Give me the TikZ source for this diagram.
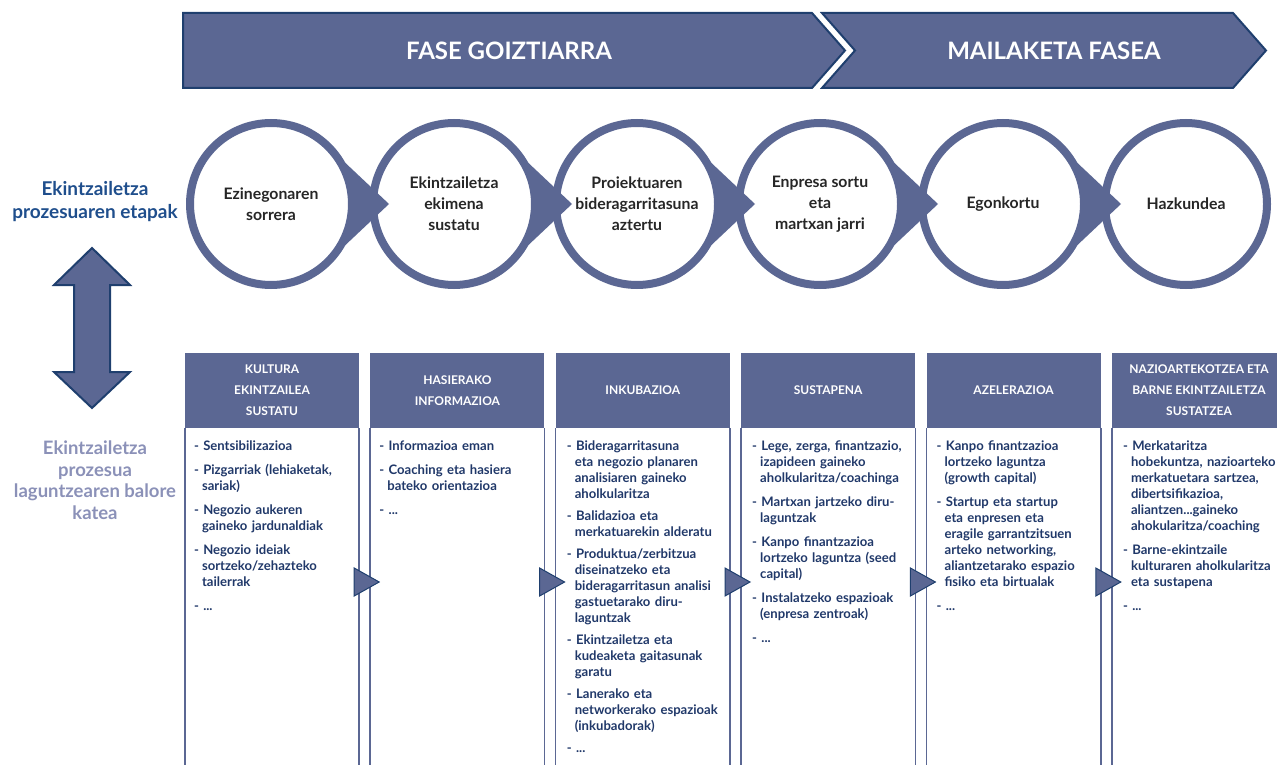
\documentclass[tikz,border=0pt]{standalone}
\usepackage{fontspec}
\setmainfont{Lato}
\usetikzlibrary{positioning}

\definecolor{stageblue}{RGB}{91,103,147}
\definecolor{navy}{RGB}{31,63,110}
\definecolor{itemnavy}{RGB}{32,56,105}
\definecolor{labelblue}{RGB}{31,78,140}
\definecolor{labelgrey}{RGB}{139,145,184}

\newcommand\itm[1]{{\let\\\newline\hangindent=8pt\hangafter=1\noindent-\ #1\par}}

\tikzset{
    flag/.style={fill=stageblue, draw=navy, line width=2pt, line join=miter},
    phase/.style={text=white, font=\bfseries\fontsize{24}{28}\selectfont},
    stage/.style={circle, draw=stageblue, line width=8pt, fill=white, minimum size=162pt,
        inner sep=0pt, align=center, text=black!85, font=\bfseries\fontsize{15.8}{21}\selectfont},
    colhead/.style={rectangle, fill=stageblue, text=white, minimum width=174pt, minimum height=75pt,
        inner sep=0pt, align=center, font=\bfseries\fontsize{12}{21}\selectfont},
    itemtext/.style={text width=168pt, align=left, inner sep=0pt, text=itemnavy,
        font=\bfseries\fontsize{13.1}{16}\selectfont, execute at begin node=\setlength{\parskip}{8pt}},
    colline/.style={draw=stageblue, line width=1.5pt},
    tri/.style={fill=stageblue, draw=navy, line width=1pt, line join=miter}
}

\begin{document}
\begin{tikzpicture}[x=1pt,y=1pt]
    \clip (0,0) rectangle (1277,-765);
    % phases
    \draw[flag] (183,-13) -- (812,-13) -- (845,-50.5) -- (812,-88) -- (183,-88) -- cycle;
    \draw[flag] (822,-13) -- (1233,-13) -- (1266,-50.5) -- (1233,-88) -- (822,-88) -- (855,-50.5) -- cycle;
    \node[phase] (goiz) at (509,-50.5) {FASE GOIZTIARRA};
    \node[phase] (mail) at (1054,-50.5) {MAILAKETA FASEA};
    %
    \node[font=\bfseries\fontsize{19}{23}\selectfont, text=labelblue, align=center] (etapak) at (95,-202)
        {Ekintzailetza\\prozesuaren etapak};
    \node[font=\bfseries\fontsize{18.5}{21.5}\selectfont, text=labelgrey, align=center] (katea) at (95,-480)
        {Ekintzailetza\\prozesua\\laguntzearen balore\\katea};
    \draw[flag] (92,-248) -- (130,-285) -- (110,-285) -- (110,-372) -- (130,-372) -- (92,-408)
        -- (54,-372) -- (74,-372) -- (74,-285) -- (54,-285) -- cycle;
    % stages
    \node[stage] (c1) at (271,-204) {Ezinegonaren\\sorrera};
    \node[stage, right=13pt of c1] (c2) {Ekintzailetza\\ekimena\\sustatu};
    \node[stage, right=13pt of c2] (c3) {Proiektuaren\\bideragarritasuna\\aztertu};
    \node[stage, right=13pt of c3] (c4) {Enpresa sortu\\eta\\martxan jarri};
    \node[stage, right=13pt of c4] (c5) {Egonkortu};
    \node[stage, right=13pt of c5] (c6) {Hazkundea};
    %
    \fill[stageblue] ([shift={(44:81pt)}]c1.center) -- ([xshift=118pt]c1.center) -- ([shift={(-44:81pt)}]c1.center) arc[start angle=-44, end angle=44, radius=81pt] -- cycle;
    \fill[stageblue] ([shift={(44:81pt)}]c2.center) -- ([xshift=118pt]c2.center) -- ([shift={(-44:81pt)}]c2.center) arc[start angle=-44, end angle=44, radius=81pt] -- cycle;
    \fill[stageblue] ([shift={(44:81pt)}]c3.center) -- ([xshift=118pt]c3.center) -- ([shift={(-44:81pt)}]c3.center) arc[start angle=-44, end angle=44, radius=81pt] -- cycle;
    \fill[stageblue] ([shift={(44:81pt)}]c4.center) -- ([xshift=118pt]c4.center) -- ([shift={(-44:81pt)}]c4.center) arc[start angle=-44, end angle=44, radius=81pt] -- cycle;
    \fill[stageblue] ([shift={(44:81pt)}]c5.center) -- ([xshift=118pt]c5.center) -- ([shift={(-44:81pt)}]c5.center) arc[start angle=-44, end angle=44, radius=81pt] -- cycle;
    % value chain
    \node[colhead] (h1) at (272,-390.5) {KULTURA\\EKINTZAILEA\\SUSTATU};
    \node[colhead, right=11pt of h1] (h2) {HASIERAKO\\INFORMAZIOA};
    \node[colhead, right=11pt of h2] (h3) {INKUBAZIOA};
    \node[colhead, right=11pt of h3] (h4) {SUSTAPENA};
    \node[colhead, right=11pt of h4] (h5) {AZELERAZIOA};
    \node[colhead, right=11pt of h5] (h6) {NAZIOARTEKOTZEA ETA\\BARNE EKINTZAILETZA\\SUSTATZEA};
    %
    \draw[colline] (h1.south west) -- ++(0,-340) (h1.south east) -- ++(0,-340);
    \draw[colline] (h2.south west) -- ++(0,-340) (h2.south east) -- ++(0,-340);
    \draw[colline] (h3.south west) -- ++(0,-340) (h3.south east) -- ++(0,-340);
    \draw[colline] (h4.south west) -- ++(0,-340) (h4.south east) -- ++(0,-340);
    \draw[colline] (h5.south west) -- ++(0,-340) (h5.south east) -- ++(0,-340);
    \draw[colline] (h6.south west) -- ++(0,-340);
    %
    \node[itemtext, below right=12pt and 9pt of h1.south west, anchor=north west] (b1) {%
        \itm{Sentsibilizazioa}
        \itm{Pizgarriak (lehiaketak,\\sariak)}
        \itm{Negozio aukeren\\gaineko jardunaldiak}
        \itm{Negozio ideiak\\sortzeko/zehazteko\\tailerrak}
        \itm{...}};
    \node[itemtext, below right=12pt and 9pt of h2.south west, anchor=north west] (b2) {%
        \itm{Informazioa eman}
        \itm{Coaching eta hasiera\\bateko orientazioa}
        \itm{...}};
    \node[itemtext, below right=12pt and 11pt of h3.south west, anchor=north west] (b3) {%
        \setlength{\parskip}{6pt}%
        \itm{Bideragarritasuna\\eta negozio planaren\\analisiaren gaineko\\aholkularitza}
        \itm{Balidazioa eta\\merkatuarekin alderatu}
        \itm{Produktua/zerbitzua\\diseinatzeko eta\\bideragarritasun analisi\\gastuetarako diru-\\laguntzak}
        \itm{Ekintzailetza eta\\kudeaketa gaitasunak\\garatu}
        \itm{Lanerako eta\\networkerako espazioak\\(inkubadorak)}
        \itm{...}};
    \node[itemtext, below right=12pt and 11pt of h4.south west, anchor=north west] (b4) {%
        \itm{Lege, zerga, finantzazio,\\izapideen gaineko\\aholkularitza/coachinga}
        \itm{Martxan jartzeko diru-\\laguntzak}
        \itm{Kanpo finantzazioa\\lortzeko laguntza (seed\\capital)}
        \itm{Instalatzeko espazioak\\(enpresa zentroak)}
        \itm{...}};
    \node[itemtext, below right=12pt and 10pt of h5.south west, anchor=north west] (b5) {%
        \itm{Kanpo finantzazioa\\lortzeko laguntza\\(growth capital)}
        \itm{Startup eta startup\\eta enpresen eta\\eragile garrantzitsuen\\arteko networking,\\aliantzetarako espazio\\fisiko eta birtualak}
        \itm{...}};
    \node[itemtext, below right=12pt and 11pt of h6.south west, anchor=north west] (b6) {%
        \itm{Merkataritza\\hobekuntza, nazioarteko\\merkatuetara sartzea,\\dibertsifikazioa,\\aliantzen...gaineko\\ahokularitza/coaching}
        \itm{Barne-ekintzaile\\kulturaren aholkularitza\\eta sustapena}
        \itm{...}};
    %
    \draw[tri] (h1.east |- 0,-568) ++(-5,0) -- ++(25,-14) -- ++(-25,-14) -- cycle;
    \draw[tri] (h2.east |- 0,-568) ++(-5,0) -- ++(25,-14) -- ++(-25,-14) -- cycle;
    \draw[tri] (h3.east |- 0,-568) ++(-5,0) -- ++(25,-14) -- ++(-25,-14) -- cycle;
    \draw[tri] (h4.east |- 0,-568) ++(-5,0) -- ++(25,-14) -- ++(-25,-14) -- cycle;
    \draw[tri] (h5.east |- 0,-568) ++(-5,0) -- ++(25,-14) -- ++(-25,-14) -- cycle;
\end{tikzpicture}
\end{document}
